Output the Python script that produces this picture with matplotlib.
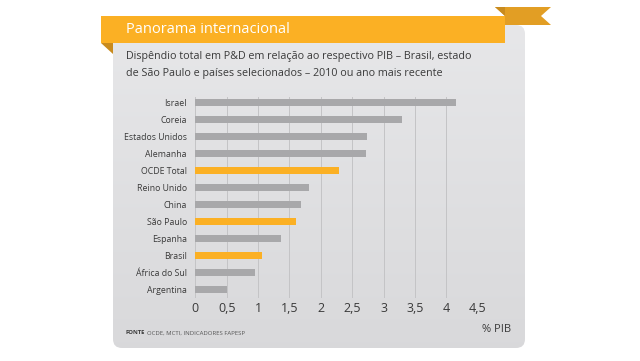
import matplotlib
matplotlib.use("Agg")
import matplotlib.pyplot as plt
import numpy as np
from matplotlib.patches import FancyBboxPatch, Polygon, Rectangle

plt.rcParams['font.family'] = ['Open Sans', 'DejaVu Sans']

categories = ["Israel", "Coreia", "Estados Unidos", "Alemanha", "OCDE Total",
              "Reino Unido", "China", "São Paulo", "Espanha", "Brasil",
              "África do Sul", "Argentina"]
values = [4.15, 3.30, 2.73, 2.72, 2.29, 1.81, 1.68, 1.60, 1.37, 1.06, 0.95, 0.51]
highlight = ["OCDE Total", "São Paulo", "Brasil"]
xticks = [0, 0.5, 1, 1.5, 2, 2.5, 3, 3.5, 4, 4.5]
xticklabels = ["0", "0,5", "1", "1,5", "2", "2,5", "3", "3,5", "4", "4,5"]

title = "Panorama internacional"
subtitle1 = "Dispêndio total em P&D em relação ao respectivo PIB – Brasil, estado"
subtitle2 = "de São Paulo e países selecionados – 2010 ou ano mais recente"
source = "OCDE, MCTI, INDICADORES FAPESP"

ORANGE = "#FBB024"
RIBBON = "#E29E24"
FOLD = "#C98B1E"
GRAY = "#A8A8AA"
W, H = 640, 361

fig = plt.figure(figsize=(6.4, 3.61), dpi=100)
fig.patch.set_facecolor("white")

# decoration axes in pixel coordinates
bg = fig.add_axes([0, 0, 1, 1])
bg.set_xlim(0, W)
bg.set_ylim(H, 0)
bg.axis("off")

# panel with vertical gradient
panel = FancyBboxPatch((113, 25), 412, 323, boxstyle="round,pad=0,rounding_size=9",
                       facecolor="none", edgecolor="none")
bg.add_patch(panel)
grad = np.linspace(0, 1, 256).reshape(-1, 1)
c_top = np.array([0.905, 0.906, 0.914])
c_bot = np.array([0.850, 0.850, 0.858])
img = c_top + (c_bot - c_top) * grad[:, :, None]
im = bg.imshow(img, extent=(113, 525, 348, 25), aspect="auto", zorder=1)
im.set_clip_path(panel)

# ribbon tail top right
bg.add_patch(Polygon([(495, 7), (551, 7), (541, 16), (551, 25), (505, 25), (505, 16)],
                     closed=True, facecolor=RIBBON, edgecolor="none", zorder=2))
bg.add_patch(Polygon([(495, 7), (505, 16), (505, 7)], closed=True,
                     facecolor=FOLD, edgecolor="none", zorder=2.5))
# main banner
bg.add_patch(Rectangle((100.5, 16), 404.5, 26.5, facecolor=ORANGE, edgecolor="none", zorder=3))
# left fold
bg.add_patch(Polygon([(100.5, 42.5), (113, 42.5), (113, 54)], closed=True,
                     facecolor=FOLD, edgecolor="none", zorder=3))

bg.text(126, 29.5, title, color="white", fontsize=10.5, va="center", ha="left", zorder=4)
bg.text(126, 56.5, subtitle1, color="#3a3a3a", fontsize=7.75, va="center", ha="left", zorder=4)
bg.text(126, 73.5, subtitle2, color="#3a3a3a", fontsize=7.75, va="center", ha="left", zorder=4)
t_fonte = bg.text(126, 333, "FONTE", color="#3a3a3a", fontsize=4.2, fontweight="bold",
                  va="center", ha="left", zorder=4)
bg.annotate(source, xy=(1, 0.5), xycoords=t_fonte, xytext=(1.5, 0),
            textcoords="offset points", color="#555555", fontsize=4.3,
            va="center", ha="left", zorder=4)
bg.text(511, 330, "% PIB", color="#3a3a3a", fontsize=8, va="center", ha="right", zorder=4)

# chart axes
x0, x1 = 195.3, 477.7
ytop, ybot = 97, 298
ax = fig.add_axes([x0 / W, 1 - ybot / H, (x1 - x0) / W, (ybot - ytop) / H])
ax.patch.set_alpha(0)
ypos = np.arange(len(categories))
colors = [ORANGE if c in highlight else GRAY for c in categories]
ax.barh(ypos, values, height=0.43, color=colors, zorder=3)
ax.set_xlim(0, 4.5)
ax.set_ylim(11.51, -0.336)
ax.set_xticks(xticks)
ax.set_xticklabels(xticklabels, fontsize=9, color="#3a3a3a")
ax.set_yticks(ypos)
ax.set_yticklabels(categories, fontsize=6.3, color="#3a3a3a")
ax.tick_params(axis="both", length=0)
ax.tick_params(axis="x", pad=3)
ax.tick_params(axis="y", pad=6)
ax.grid(axis="x", color="#c4c4c6", linewidth=0.7, zorder=0)
ax.grid(axis="y", visible=False)
for s in ax.spines.values():
    s.set_visible(False)

fig.savefig("out.png", dpi=100, facecolor="white")
